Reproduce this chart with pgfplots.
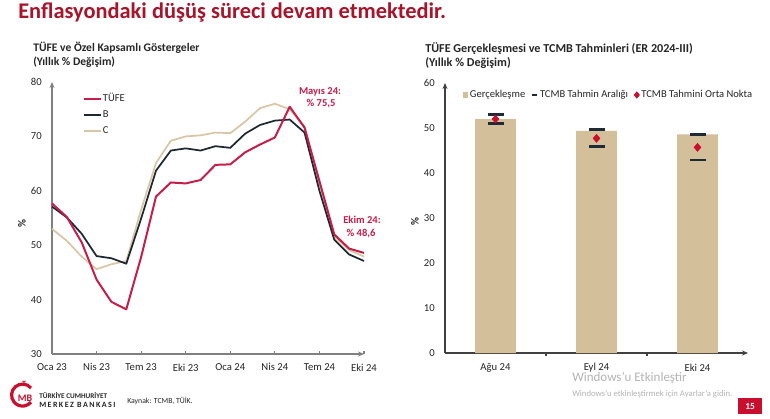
\documentclass[border=0pt]{standalone}
\usepackage{fontspec}
\setmainfont{Carlito}
\usepackage{pgfplots}
\usepackage{pgfplotstable}
\pgfplotsset{compat=1.18}
\usetikzlibrary{arrows.meta}
\newlength\px
\setlength\px{0.75pt}
\definecolor{titlered}{HTML}{A8142A}
\definecolor{tufe}{HTML}{C41E4A}
\definecolor{bcol}{HTML}{1E2832}
\definecolor{ccol}{HTML}{D9C6A5}
\definecolor{barcol}{HTML}{D4BF9B}
\definecolor{diacol}{HTML}{C8102E}
\definecolor{rangecol}{HTML}{1E2A36}
\definecolor{axgray}{HTML}{808080}
\definecolor{axdark}{HTML}{404040}
\definecolor{txt}{HTML}{262626}
\definecolor{wm}{HTML}{B4B4B4}

\pgfplotstableread{
m tufe b c
0  57.68 57.1 53.0
1  55.18 55.1 50.8
2  50.51 52.1 47.9
3  43.68 48.0 45.6
4  39.59 47.6 46.5
5  38.21 46.6 47.1
6  47.83 54.9 56.5
7  58.94 63.7 65.1
8  61.53 67.4 69.2
9  61.36 67.8 70.0
10 61.98 67.4 70.2
11 64.77 68.2 70.7
12 64.86 67.9 70.6
13 67.07 70.5 72.7
14 68.50 72.1 75.2
15 69.80 72.9 76.0
16 75.45 73.1 75.0
17 71.60 70.7 71.8
18 61.78 60.0 61.2
19 51.97 51.0 51.6
20 49.38 48.3 49.1
21 48.58 47.1 47.9
}\lefttab

\pgfplotstableread{
k real
0 51.97
1 49.38
2 48.58
}\realtab

\pgfplotstableread{
k range
0 53.0
0 51.0
1 49.6
1 45.9
2 48.5
2 42.9
}\rangetab

\pgfplotstableread{
k mid
0 52.0
1 47.7
2 45.7
}\midtab

\begin{document}
\begin{tikzpicture}
\fill[white] (0,0) rectangle (770\px,418\px);
\path[use as bounding box] (0,0) rectangle (770\px,418\px);

% main title
\node[anchor=base west, inner sep=0pt, text=titlered, font=\fontsize{16.8pt}{19pt}\selectfont\bfseries] at (18\px,399\px) {Enflasyondaki düşüş süreci devam etmektedir.};

% panel titles
\node[anchor=base west, inner sep=0pt, text=txt, font=\fontsize{8.7pt}{10pt}\selectfont\bfseries] at (33\px,366\px) {TÜFE ve Özel Kapsamlı Göstergeler};
\node[anchor=base west, inner sep=0pt, text=txt, font=\fontsize{8.7pt}{10pt}\selectfont\bfseries] at (33\px,352\px) {(Yıllık \% Değişim)};
\node[anchor=base west, inner sep=0pt, text=txt, font=\fontsize{9.1pt}{10pt}\selectfont\bfseries] at (425\px,365\px) {TÜFE Gerçekleşmesi ve TCMB Tahminleri (ER 2024-III)};
\node[anchor=base west, inner sep=0pt, text=txt, font=\fontsize{9.1pt}{10pt}\selectfont\bfseries] at (425\px,351\px) {(Yıllık \% Değişim)};

% y labels
\node[rotate=90, inner sep=0pt, text=txt, font=\fontsize{8.2pt}{10pt}\selectfont\bfseries] at (22\px,194\px) {\%};
\node[rotate=90, inner sep=0pt, text=txt, font=\fontsize{8.2pt}{10pt}\selectfont\bfseries] at (415\px,196\px) {\%};

% LEFT AXIS
\begin{axis}[
  at={(52\px,64\px)}, anchor=south west,
  scale only axis, width=312\px, height=272\px,
  xmin=0, xmax=21, ymin=30, ymax=80,
  axis lines=left,
  axis line style={-{Stealth[length=4.5pt,width=3.8pt]}, draw=axgray, line width=0.9pt},
  xtick={0,3,...,21},
  xticklabels={Oca 23,Nis 23,Tem 23,Eki 23,Oca 24,Nis 24,Tem 24,Eki 24},
  ytick={30,40,...,80},
  tick align=inside,
  major tick length=3\px,
  x tick style={draw=axgray, line width=0.8pt},
  y tick style={draw=none},
  ticklabel style={font=\fontsize{8pt}{9pt}\selectfont, text=txt},
  /pgf/number format/assume math mode=true,
  yticklabel style={anchor=east, inner sep=0pt, xshift=-7.5pt},
  xticklabel style={anchor=center, inner sep=0pt, yshift=-10pt},
  clip=false,
  legend cell align=left,
  reverse legend,
  legend image code/.code={\draw[#1] (0pt,0pt) -- (12.75pt,0pt);},
  legend style={at={(0.099,0.963)}, anchor=north west, draw=none, fill=none,
     inner sep=0pt, row sep=3\px,
     font=\fontsize{7.9pt}{9pt}\selectfont,
     nodes={inner sep=0.6pt, text height=6.5pt, text depth=2pt, text=txt}},
]
\addplot[ccol, line width=1.3pt, line join=round] table[x=m,y=c] {\lefttab};
\addlegendentry{C}
\addplot[bcol, line width=1.3pt, line join=round] table[x=m,y=b] {\lefttab};
\addlegendentry{B}
\addplot[tufe, line width=1.5pt, line join=round] table[x=m,y=tufe] {\lefttab};
\addlegendentry{TÜFE}
\end{axis}

% annotations
\node[inner sep=0pt, text=tufe, font=\fontsize{7.9pt}{9.2pt}\selectfont\bfseries, anchor=base] at (320\px,323\px) {Mayıs 24:};
\node[inner sep=0pt, text=tufe, font=\fontsize{7.9pt}{9.2pt}\selectfont\bfseries, anchor=base] at (321\px,311\px) {\% 75,5};
\node[inner sep=0pt, text=tufe, font=\fontsize{7.9pt}{9.2pt}\selectfont\bfseries, anchor=base] at (362\px,195\px) {Ekim 24:};
\node[inner sep=0pt, text=tufe, font=\fontsize{7.9pt}{9.2pt}\selectfont\bfseries, anchor=base] at (361\px,182\px) {\% 48,6};

% RIGHT AXIS
\begin{axis}[
  at={(445\px,65\px)}, anchor=south west,
  scale only axis, width=303\px, height=270\px,
  xmin=-0.5, xmax=2.5, ymin=0, ymax=60,
  axis lines=left,
  axis line style={-{Stealth[length=4.5pt,width=3.8pt]}, draw=axdark, line width=0.9pt},
  xtick={0,1,2},
  xticklabels={Ağu 24,Eyl 24,Eki 24},
  ytick={0,10,...,60},
  major tick length=0pt,
  y tick style={draw=none},
  extra x ticks={0.5,1.5},
  extra x tick labels={},
  extra x tick style={major tick length=3\px, tick align=outside, tick style={draw=axdark, line width=0.8pt}},
  ticklabel style={font=\fontsize{8pt}{9pt}\selectfont, text=txt},
  /pgf/number format/assume math mode=true,
  yticklabel style={anchor=east, inner sep=0pt, xshift=-7.5pt},
  xticklabel style={anchor=center, inner sep=0pt, yshift=-11pt},
  clip=false,
  legend columns=3,
  legend style={at={(0.058,0.9556)}, anchor=west, draw=none, fill=none,
     inner sep=0pt,
     font=\fontsize{7.9pt}{9pt}\selectfont,
     nodes={inner sep=1.3pt, text=txt},
     /tikz/every even column/.append style={column sep=4\px}},
]
\addplot[ybar, bar width=40.7\px, bar shift=0pt, fill=barcol, draw=none,
  legend image code/.code={\fill[barcol] (0pt,-2.2pt) rectangle (4pt,2.2pt);}]
  table[x=k,y=real] {\realtab};
\addlegendentry{Gerçekleşme}
\addplot[only marks, mark=-, mark size=8\px, rangecol, mark options={line width=2.8\px},
  legend image code/.code={\draw[rangecol, line width=2\px] (0pt,0pt) -- (4pt,0pt);}]
  table[x=k,y=range] {\rangetab};
\addlegendentry{TCMB Tahmin Aralığı}
\addplot[only marks, mark=diamond*, mark size=4\px, diacol, mark options={draw=diacol, fill=diacol, xscale=1.15},
  legend image code/.code={\fill[diacol] (2pt,2.4pt) -- (4pt,0pt) -- (2pt,-2.4pt) -- (0pt,0pt) -- cycle;}]
  table[x=k,y=mid] {\midtab};
\addlegendentry{TCMB Tahmini Orta Nokta}
\end{axis}

% footer
\begin{scope}
\draw[diacol, line width=3.2\px] (31\px,30\px) arc[start angle=40, end angle=320, radius=11\px];
\node[inner sep=0pt, text=diacol, font=\fontsize{7.5pt}{8pt}\selectfont\bfseries] at (25\px,20\px) {MB};
\node[inner sep=0pt, text=diacol, font=\fontsize{6pt}{7pt}\selectfont\bfseries] at (24\px,34\px) {T};
\end{scope}
\node[anchor=base west, inner sep=0pt, text=txt, font=\fontsize{5.4pt}{6pt}\selectfont\bfseries] at (39\px,20\px) {TÜRKİYE CUMHURİYET};
\node[anchor=base west, inner sep=0pt, text=txt, font=\fontsize{6pt}{7pt}\selectfont\bfseries\addfontfeatures{LetterSpace=18}] at (39\px,11\px) {MERKEZ BANKASI};
\node[anchor=west, inner sep=0pt, text=txt, font=\fontsize{5.8pt}{7pt}\selectfont] at (127\px,17\px) {Kaynak: TCMB, TÜİK.};

% watermark
\node[anchor=base west, inner sep=0pt, text=wm, font=\fontsize{9.75pt}{11pt}\selectfont] at (572\px,37\px) {Windows'u Etkinleştir};
\node[anchor=base west, inner sep=0pt, text=wm, font=\fontsize{6.5pt}{8pt}\selectfont] at (572\px,22\px) {Windows'u etkinleştirmek için Ayarlar'a gidin.};

% page number
\fill[diacol] (738\px,4\px) rectangle (762\px,20\px);
\node[inner sep=0pt, text=white, font=\fontsize{7pt}{8pt}\selectfont\bfseries] at (750\px,12\px) {15};
\end{tikzpicture}
\end{document}
